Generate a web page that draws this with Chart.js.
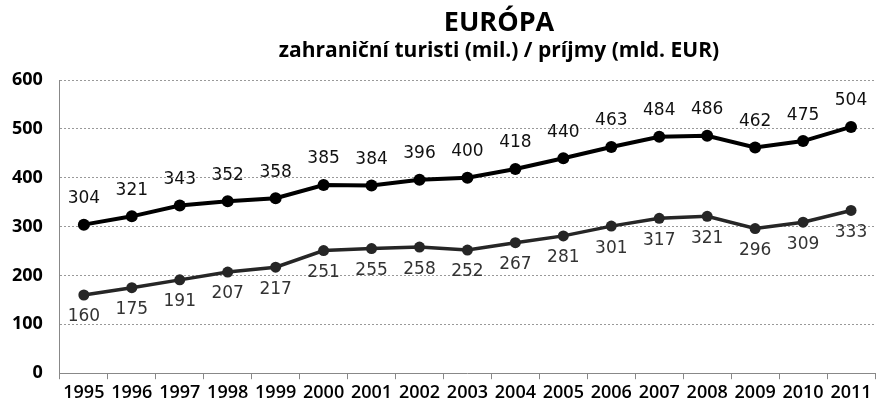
<!DOCTYPE html>
<html>
<head>
<meta charset="utf-8">
<script src="https://cdn.jsdelivr.net/npm/chart.js@4"></script>
<style>
  html, body { margin: 0; padding: 0; background: #fff; }
  #wrap { width: 881px; height: 401px; }
</style>
</head>
<body>
<div id="wrap"><canvas id="lineChart" width="881" height="401"></canvas></div>
<script>
/** datos del grafico */
var years = ["1995","1996","1997","1998","1999","2000","2001","2002","2003","2004","2005","2006","2007","2008","2009","2010","2011"];
var turisti = [304, 321, 343, 352, 358, 385, 384, 396, 400, 418, 440, 463, 484, 486, 462, 475, 504];
var prijmy = [160, 175, 191, 207, 217, 251, 255, 258, 252, 267, 281, 301, 317, 321, 296, 309, 333];
var y_ticks = [0, 100, 200, 300, 400, 500, 600];

var title_text = "EURÓPA";
var subtitle_text = "zahraniční turisti (mil.) / príjmy (mld. EUR)";

/** titulo dibujado a mano, centrado como en el original */
var titlePlugin = {
  id: "titulo",
  afterDraw: function(chart) {
    var ctx = chart.ctx;
    ctx.save();
    ctx.fillStyle = "#000";
    ctx.textAlign = "center";
    ctx.textBaseline = "middle";
    ctx.font = "bold 27px 'Open Sans'";
    ctx.fillText(title_text, 499, 23);
    ctx.font = "bold 21px 'Open Sans'";
    ctx.fillText(subtitle_text, 499, 51);
    ctx.restore();
  }
};

/** etiquetas de valores encima / debajo de los puntos */
var labelsPlugin = {
  id: "etiquetas",
  afterDatasetsDraw: function(chart) {
    var ctx = chart.ctx;
    chart.data.datasets.forEach(function(dataset, i) {
      var meta = chart.getDatasetMeta(i);
      if (meta.hidden) return;
      meta.data.forEach(function(element, index) {
        ctx.save();
        ctx.fillStyle = i == 0 ? "#111" : "#333";
        ctx.font = "17px 'DejaVu Sans'";
        ctx.textAlign = "center";
        ctx.textBaseline = "middle";
        var dy = i == 0 ? -26 : 22;
        ctx.fillText(dataset.data[index].toString(), element.x, element.y + dy);
        ctx.restore();
      });
    });
  }
};

var ctx = document.getElementById("lineChart").getContext("2d");
var lineChart = new Chart(ctx, {
  type: "line",
  data: {
    labels: years,
    datasets: [{
      label: "zahraniční turisti (mil.)",
      data: turisti,
      borderColor: "#000",
      backgroundColor: "#000",
      borderWidth: 4,
      pointRadius: 6,
      pointBackgroundColor: "#000",
      pointBorderWidth: 0,
      tension: 0
    }, {
      label: "príjmy (mld. EUR)",
      data: prijmy,
      borderColor: "#262626",
      backgroundColor: "#262626",
      borderWidth: 3.5,
      pointRadius: 5.5,
      pointBackgroundColor: "#262626",
      pointBorderWidth: 0,
      tension: 0
    }]
  },
  options: {
    responsive: false,
    animation: false,
    devicePixelRatio: 1,
    layout: { padding: { top: 80, left: -5, right: -2, bottom: -8 } },
    plugins: {
      legend: { display: false },
      tooltip: { enabled: false },
      title: { display: false }
    },
    scales: {
      x: {
        offset: true,
        grid: {
          offset: true,
          drawOnChartArea: false,
          drawTicks: true,
          tickLength: 6,
          color: "#888"
        },
        border: { display: true, color: "#888", width: 1 },
        ticks: {
          color: "#000",
          font: { family: "'Open Sans'", size: 18, weight: "600" },
          padding: 3,
          maxRotation: 0,
          autoSkip: false
        }
      },
      y: {
        min: 0,
        max: 600,
        afterBuildTicks: function(axis) {
          axis.ticks = y_ticks.map(function(v) { return { value: v }; });
        },
        grid: {
          drawTicks: false,
          color: function(c) { return c.tick && c.tick.value == 0 ? "rgba(0,0,0,0)" : "#999"; },
          lineWidth: 1
        },
        border: { display: true, color: "#888", width: 1, dash: [2, 2] },
        ticks: {
          color: "#000",
          font: { family: "'Open Sans'", size: 18, weight: "bold" },
          padding: 17
        }
      }
    }
  },
  plugins: [titlePlugin, labelsPlugin]
});
</script>
</body>
</html>
